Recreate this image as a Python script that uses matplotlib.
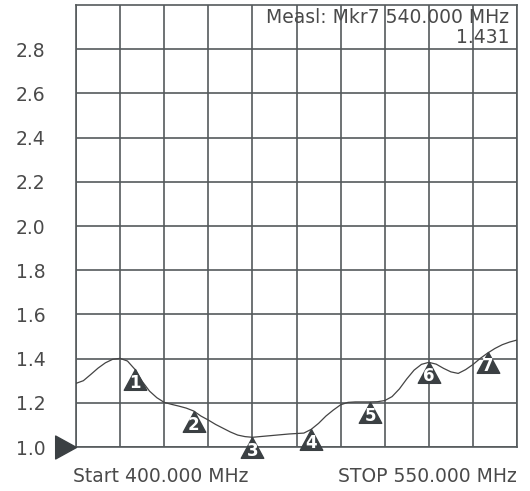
"""Analyzer-style SWR trace, 400-550 MHz, with numbered markers."""

import matplotlib

matplotlib.use("Agg")
import matplotlib.pyplot as plt
from matplotlib.path import Path

# trace sampled every 2.5 MHz
FREQ_MHZ = [400 + 2.5 * i for i in range(61)]
SWR = [
    1.288, 1.300, 1.328, 1.357, 1.381, 1.397, 1.401, 1.389, 1.352, 1.297,
    1.253, 1.223, 1.202, 1.193, 1.185, 1.176, 1.163, 1.140, 1.122, 1.102,
    1.085, 1.068, 1.054, 1.047, 1.044, 1.047, 1.050, 1.053, 1.056, 1.059,
    1.061, 1.063, 1.080, 1.107, 1.140, 1.167, 1.191, 1.202, 1.204, 1.204,
    1.204, 1.205, 1.210, 1.228, 1.263, 1.308, 1.348, 1.374, 1.383, 1.375,
    1.356, 1.340, 1.333, 1.350, 1.373, 1.401, 1.425, 1.446, 1.463, 1.475,
    1.484,
]

MARKER_FREQ = [420, 440, 460, 480, 500, 520, 540]
MARKER_SWR = [1.352, 1.163, 1.044, 1.080, 1.204, 1.383, 1.431]
MARKER_IDS = ["1", "2", "3", "4", "5", "6", "7"]

Y_TICKS = [1.0, 1.2, 1.4, 1.6, 1.8, 2.0, 2.2, 2.4, 2.6, 2.8]
X_GRID = [400 + 15 * i for i in range(11)]

GRID = "#555a5c"
TEXT = "#4a4a4a"
MARK = "#3b4043"
FS = 13.5

# triangle with its apex at the data point
tri_down = Path([(0, 0), (-0.54, -1), (0.54, -1), (0, 0)],
                [Path.MOVETO, Path.LINETO, Path.LINETO, Path.CLOSEPOLY])
tri_right = Path([(0, 0), (-1, 0.55), (-1, -0.55), (0, 0)],
                 [Path.MOVETO, Path.LINETO, Path.LINETO, Path.CLOSEPOLY])

fig = plt.figure(figsize=(5.30, 4.91), dpi=100)
ax = fig.add_axes([0.1434, 0.0896, 0.8321, 0.9002])

ax.set_xlim(400, 550)
ax.set_ylim(1.0, 3.0)
ax.set_xticks(X_GRID)
ax.set_xticklabels([])
ax.set_yticks(Y_TICKS)
ax.set_yticklabels([f"{v:.1f}" for v in Y_TICKS], fontsize=FS, color=TEXT)
ax.tick_params(axis="y", length=0, pad=22)
ax.tick_params(axis="x", length=0)
ax.grid(True, color=GRID, linewidth=1.2)
for s in ax.spines.values():
    s.set_color(GRID)
    s.set_linewidth(1.2)

ax.plot(FREQ_MHZ, SWR, color="#444444", linewidth=0.9, zorder=3)

for f, v, lab in zip(MARKER_FREQ, MARKER_SWR, MARKER_IDS):
    ax.plot([f], [v], marker=tri_down, markersize=30, color=MARK,
            linestyle="none", zorder=4, clip_on=False)
    ax.annotate(lab, (f, v), xytext=(0, -10), textcoords="offset points",
                ha="center", va="center", fontsize=12, fontweight="bold",
                color="white", zorder=5, annotation_clip=False)

ax.plot([400], [1.0], marker=tri_right, markersize=30, color=MARK,
        linestyle="none", zorder=5, clip_on=False)

ax.text(0.982, 0.993, "Measl: Mkr7 540.000 MHz\n1.431", transform=ax.transAxes,
        ha="right", va="top", fontsize=FS, color=TEXT, linespacing=1.05)

fig.text(0.1378, 0.03, "Start 400.000 MHz", ha="left", va="center",
         fontsize=FS, color=TEXT)
fig.text(0.9755, 0.03, "STOP 550.000 MHz", ha="right", va="center",
         fontsize=FS, color=TEXT)

fig.savefig("out.png", dpi=100)
